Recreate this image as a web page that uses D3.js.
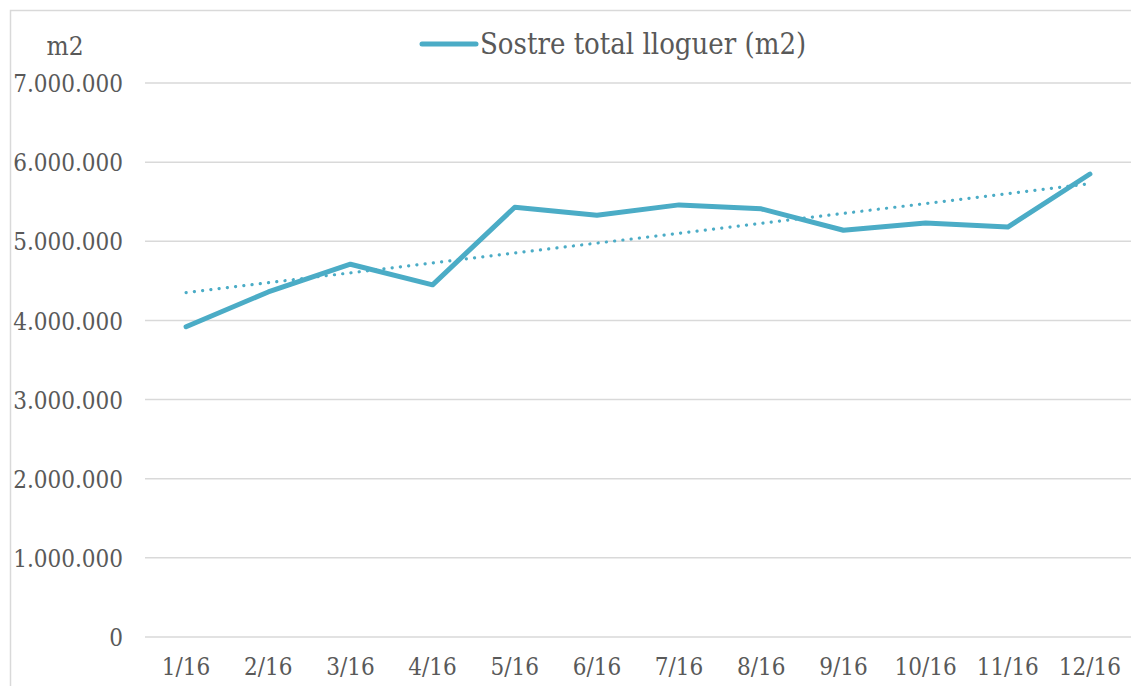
<!DOCTYPE html>
<html>
<head>
<meta charset="utf-8">
<script src="https://cdn.jsdelivr.net/npm/d3@7"></script>
<style>
  body { margin: 0; background: #fff; }
  text { font-family: "DejaVu Serif", serif; font-stretch: condensed; fill: #595959; }
</style>
</head>
<body>
<div id="chart"></div>
<script>
var svgWidth = 1131;
var svgHeight = 686;

// data
var months = ["1/16", "2/16", "3/16", "4/16", "5/16", "6/16", "7/16", "8/16", "9/16", "10/16", "11/16", "12/16"];
var sostre = [3920000, 4360000, 4710000, 4450000, 5430000, 5330000, 5460000, 5410000, 5140000, 5230000, 5180000, 5850000];
var yTicks = [0, 1000000, 2000000, 3000000, 4000000, 5000000, 6000000, 7000000];
var seriesName = "Sostre total lloguer (m2)";

var margin = { top: 83, right: 0, bottom: 49, left: 145 };
var width = svgWidth - margin.left - margin.right;
var height = svgHeight - margin.top - margin.bottom;

var svg = d3.select("#chart")
  .append("svg")
  .attr("width", svgWidth)
  .attr("height", svgHeight);

// outer chart border
svg.append("rect")
  .attr("x", 10.5)
  .attr("y", 10.5)
  .attr("width", svgWidth)
  .attr("height", svgHeight)
  .attr("fill", "none")
  .attr("stroke", "#d9d9d9")
  .attr("stroke-width", 1.5);

var chartGroup = svg.append("g")
  .attr("transform", `translate(${margin.left}, ${margin.top})`);

var xScale = d3.scaleBand()
  .domain(months)
  .range([0, width]);

var yScale = d3.scaleLinear()
  .domain([0, 7000000])
  .range([height, 0]);

var fmt = d3.formatLocale({ decimal: ",", thousands: ".", grouping: [3], currency: ["", ""] }).format(",.0f");

// gridlines
chartGroup.selectAll(".grid")
  .data(yTicks)
  .enter()
  .append("line")
  .attr("x1", 0)
  .attr("x2", width)
  .attr("y1", d => yScale(d))
  .attr("y2", d => yScale(d))
  .attr("stroke", "#d9d9d9")
  .attr("stroke-width", 1.5);

// y axis labels
var leftAxis = d3.axisLeft(yScale).tickValues(yTicks).tickFormat(fmt).tickSize(0).tickPadding(22);
var yAxis = chartGroup.append("g").call(leftAxis);
yAxis.select(".domain").remove();
yAxis.selectAll("text")
  .attr("font-size", 24)
  .attr("dy", "0.36em")
  .style("fill", "#595959");

// x axis labels
var bottomAxis = d3.axisBottom(xScale).tickSize(0).tickPadding(21);
var xAxis = chartGroup.append("g")
  .attr("transform", `translate(0, ${height})`)
  .call(bottomAxis);
xAxis.select(".domain").remove();
xAxis.selectAll("text")
  .attr("font-size", 24)
  .style("fill", "#595959");

// unit label
svg.append("text")
  .attr("x", 65)
  .attr("y", 55)
  .attr("text-anchor", "middle")
  .attr("font-size", 26)
  .text("m2");

var xPos = d => xScale(d) + xScale.bandwidth() / 2;

// linear trend (least squares over the series)
var n = sostre.length;
var xs = d3.range(1, n + 1);
var mx = d3.mean(xs), my = d3.mean(sostre);
var slope = d3.sum(xs, (x, i) => (x - mx) * (sostre[i] - my)) / d3.sum(xs, x => (x - mx) * (x - mx));
var intercept = my - slope * mx;
var trend = [1, n].map(x => ({ m: months[x - 1], v: intercept + slope * x }));

var line = d3.line()
  .x(d => xPos(d.m))
  .y(d => yScale(d.v));

var series = months.map((m, i) => ({ m: m, v: sostre[i] }));

chartGroup.append("path")
  .datum(series)
  .attr("d", line)
  .attr("fill", "none")
  .attr("stroke", "#4bacc6")
  .attr("stroke-width", 5)
  .attr("stroke-linejoin", "round")
  .attr("stroke-linecap", "round");

chartGroup.append("path")
  .datum(trend)
  .attr("d", line)
  .attr("fill", "none")
  .attr("stroke", "#4bacc6")
  .attr("stroke-width", 3.2)
  .attr("stroke-linecap", "round")
  .attr("stroke-dasharray", "0.1 8.2");

// legend
var legend = svg.append("g").attr("transform", "translate(422, 44)");
legend.append("line")
  .attr("x1", 0)
  .attr("x2", 54)
  .attr("y1", 0)
  .attr("y2", 0)
  .attr("stroke", "#4bacc6")
  .attr("stroke-width", 5)
  .attr("stroke-linecap", "round");
legend.append("text")
  .attr("x", 58)
  .attr("y", 0)
  .attr("dy", "0.35em")
  .attr("font-size", 29)
  .text(seriesName);
</script>
</body>
</html>
